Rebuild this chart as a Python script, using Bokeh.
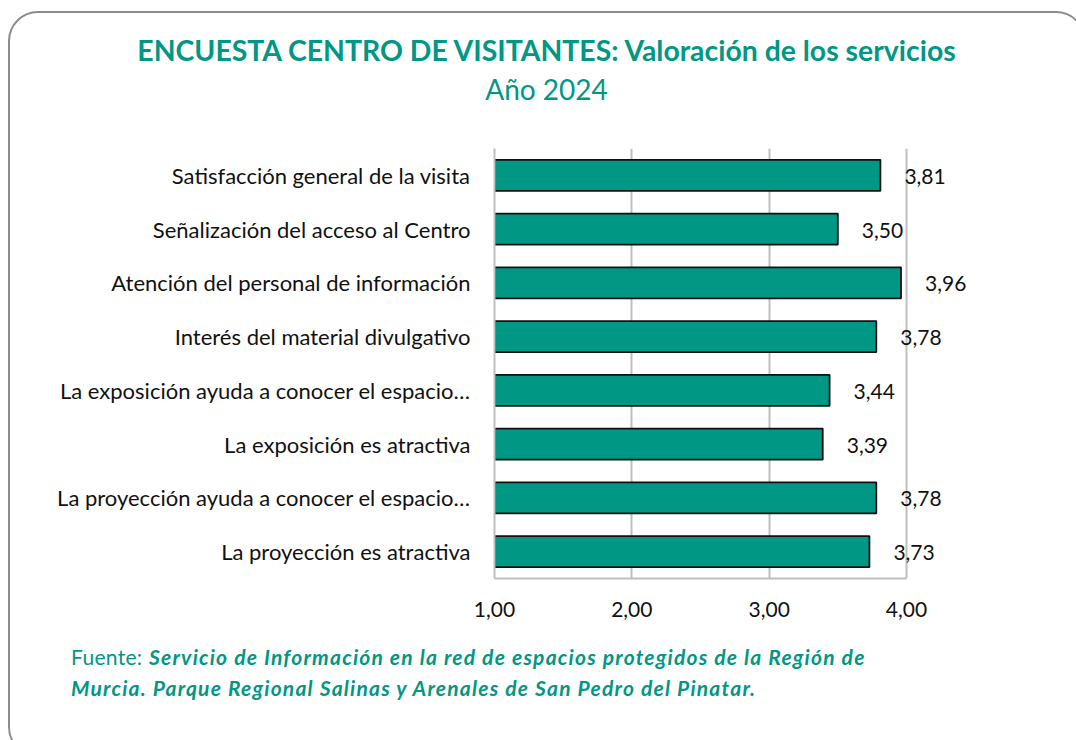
from bokeh.plotting import figure
from bokeh.models import Range1d, FactorRange, FixedTicker, Div
from bokeh.layouts import column
from bokeh.core.properties import value
from bokeh.embed import file_html
from bokeh.resources import INLINE

categories = [
    "Satisfacción general de la visita",
    "Señalización del acceso al Centro",
    "Atención del personal de información",
    "Interés del material divulgativo",
    "La exposición ayuda a conocer el espacio…",
    "La exposición es atractiva",
    "La proyección ayuda a conocer el espacio…",
    "La proyección es atractiva",
]
scores = [3.81, 3.50, 3.96, 3.78, 3.44, 3.39, 3.78, 3.73]
score_labels = ["3,81", "3,50", "3,96", "3,78", "3,44", "3,39", "3,78", "3,73"]
x_ticks = [1, 2, 3, 4]
x_tick_labels = ["1,00", "2,00", "3,00", "4,00"]

TEAL = "#009784"
FONT = "Lato"

INNER_W = 1064
TITLE_H = 110
FIG_H = 492
FOOT_H = 120

p = figure(
    width=INNER_W, height=FIG_H,
    x_range=Range1d(1, 4.6845),
    y_range=FactorRange(*list(reversed(categories)), range_padding=0),
    output_backend="svg", toolbar_location=None,
    min_border_left=484, min_border_right=74,
    min_border_top=15, min_border_bottom=47,
)
p.outline_line_color = None
p.background_fill_color = "white"
p.border_fill_color = "white"

p.hbar(y=categories, left=1, right=scores, height=0.58,
       fill_color=TEAL, line_color="#111111", line_width=1.8)

p.text(x=scores, y=categories, text=score_labels, x_offset=24, y_offset=1,
       text_font=value(FONT), text_font_size="21px", text_color="#111111",
       text_baseline="middle", text_align="left")

p.xaxis.ticker = FixedTicker(ticks=x_ticks)
p.xaxis.bounds = (1, 4)
p.xaxis.major_label_overrides = {t: l for t, l in zip(x_ticks, x_tick_labels)}
p.xaxis.major_tick_line_color = None
p.xaxis.minor_tick_line_color = None
p.xaxis.axis_line_color = "#bfbfbf"
p.xaxis.axis_line_width = 2
p.xaxis.major_label_text_font = FONT
p.xaxis.major_label_text_font_size = "21px"
p.xaxis.major_label_text_color = "#111111"
p.xaxis.major_label_standoff = 17

p.yaxis.major_tick_line_color = None
p.yaxis.minor_tick_line_color = None
p.yaxis.axis_line_color = "#bfbfbf"
p.yaxis.axis_line_width = 2
p.yaxis.major_label_text_font = FONT
p.yaxis.major_label_text_font_size = "22px"
p.yaxis.major_label_text_color = "#111111"
p.yaxis.major_label_standoff = 18

p.xgrid.grid_line_color = "#bfbfbf"
p.xgrid.grid_line_width = 2
p.ygrid.grid_line_color = None

title_html = (
    f'<div style="font-family:{FONT}; color:{TEAL}; text-align:center; '
    f'width:1063px; height:96px; overflow:hidden; padding-top:15px; box-sizing:border-box; white-space:nowrap;">'
    f'<div style="font-weight:bold; font-size:28.4px; line-height:34px;">'
    f'ENCUESTA CENTRO DE VISITANTES: Valoración de los servicios</div>'
    f'<div style="font-size:28px; line-height:44px;">Año 2024</div></div>'
)
title_div = Div(text=title_html, width=INNER_W, height=TITLE_H)

foot_html = (
    f'<div style="font-family:{FONT}; color:{TEAL}; font-size:21px; line-height:31px; '
    f'letter-spacing:1.22px; padding-left:56px; padding-top:11px; white-space:nowrap; '
    f'height:96px; overflow:hidden; box-sizing:border-box;">'
    f'<span style="letter-spacing:0.3px;">Fuente:</span> <b><i>Servicio de Información en la red de espacios protegidos de la Región de<br>'
    f'Murcia. Parque Regional Salinas y Arenales de San Pedro del Pinatar.</i></b></div>'
)
foot_div = Div(text=foot_html, width=INNER_W, height=FOOT_H)

layout = column(
    title_div, p, foot_div,
    styles={
        "border": "2px solid #8c8c8c",
        "border-radius": "30px",
        "margin-left": "8px",
        "margin-top": "11px",
        "background-color": "white",
        "overflow": "hidden",
    },
)

open("out.html", "w").write(file_html(layout, INLINE))
